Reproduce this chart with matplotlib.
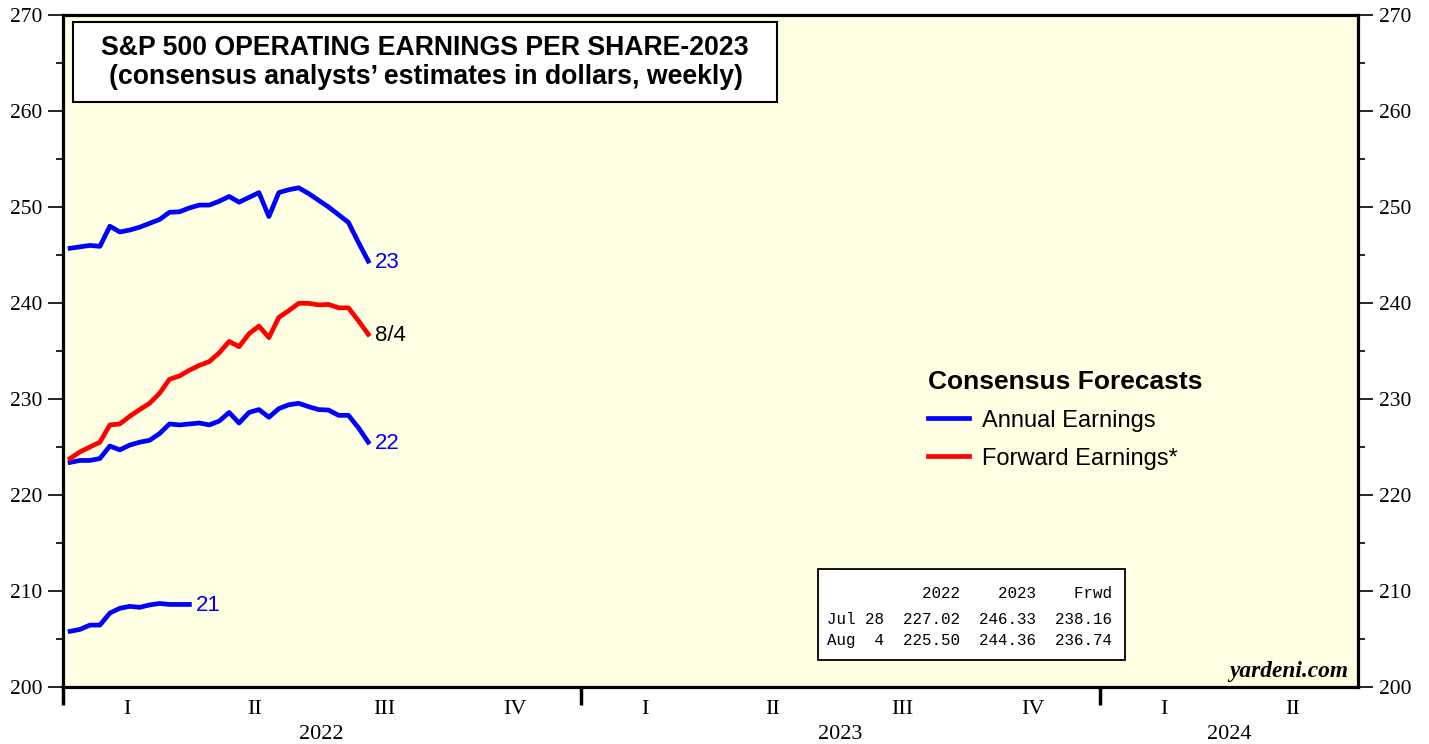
import matplotlib
matplotlib.use("Agg")
import matplotlib.pyplot as plt
from matplotlib.lines import Line2D
from matplotlib.patches import Rectangle
import numpy as np
import pandas as pd

# ---------------- data ----------------
dates_2022 = pd.date_range("2022-01-06", periods=31, freq="7D")
dates_2021 = pd.date_range("2022-01-06", periods=13, freq="7D")

eps_2023 = [245.7, 245.85, 246.0, 245.9, 248.0, 247.4, 247.6, 247.9, 248.3, 248.7,
            249.45, 249.5, 249.9, 250.2, 250.2, 250.6, 251.1, 250.5, 251.0, 251.5,
            249.0, 251.5, 251.8, 252.0, 251.4, 250.7, 250.0, 249.2, 248.4, 246.33, 244.36]
eps_2022 = [223.4, 223.6, 223.6, 223.8, 225.1, 224.7, 225.2, 225.5, 225.7, 226.4,
            227.4, 227.3, 227.4, 227.5, 227.3, 227.7, 228.6, 227.5, 228.6, 228.9,
            228.1, 229.0, 229.4, 229.55, 229.2, 228.9, 228.85, 228.3, 228.3, 227.02, 225.50]
eps_fwd = [223.8, 224.5, 225.0, 225.5, 227.3, 227.4, 228.2, 228.9, 229.55, 230.6,
           232.05, 232.4, 233.0, 233.5, 233.9, 234.8, 236.0, 235.45, 236.8, 237.6,
           236.4, 238.5, 239.2, 239.97, 239.97, 239.8, 239.85, 239.5, 239.5, 238.16, 236.74]
eps_2021 = [205.8, 206.0, 206.45, 206.45, 207.7, 208.2, 208.4, 208.3, 208.55, 208.7,
            208.6, 208.6, 208.6]

quarter_labels = ["I", "II", "III", "IV", "I", "II", "III", "IV", "I", "II"]
quarter_centers = ["2022-02-15", "2022-05-16", "2022-08-15", "2022-11-15",
                   "2023-02-15", "2023-05-16", "2023-08-15", "2023-11-15",
                   "2024-02-15", "2024-05-16"]
year_labels = ["2022", "2023", "2024"]
year_centers = ["2022-07-02", "2023-07-02", "2024-04-01"]
year_bounds = ["2022-01-01", "2023-01-01", "2024-01-01"]

table_header = "          2022    2023    Frwd"
table_rows = ["Jul 28  227.02  246.33  238.16",
              "Aug  4  225.50  244.36  236.74"]

# ---------------- figure ----------------
W, H = 1429, 744
fig = plt.figure(figsize=(W / 100, H / 100), dpi=100)
fig.patch.set_facecolor("white")

def fx(px):
    return px / W

def fy(py):
    return 1 - py / H

ax = fig.add_axes([fx(63), fy(687), fx(1358) - fx(63), fy(15) - fy(687)])
ax.set_facecolor("#FFFFE3")

BLUE = "#0000FF"
RED = "#FF0000"
SERIF = "Liberation Serif"
SANS = "Liberation Sans"
LW = 3.4

ax.plot(dates_2022, eps_2023, color=BLUE, lw=LW, zorder=3)
ax.plot(dates_2022, eps_2022, color=BLUE, lw=LW, zorder=3)
ax.plot(dates_2022, eps_fwd, color=RED, lw=LW, zorder=3)
ax.plot(dates_2021, eps_2021, color=BLUE, lw=LW, zorder=3)

ax.set_xlim(pd.Timestamp("2022-01-01"), pd.Timestamp("2024-07-01"))
ax.set_ylim(200, 270)

# end labels
def endlabel(d, v, s, c):
    ax.annotate(s, xy=(d, v), xytext=(5, -1), textcoords="offset points",
                va="center", ha="left", fontsize=16, color=c, family=SANS)

endlabel(dates_2022[-1], eps_2023[-1], "23", BLUE)
endlabel(dates_2022[-1], eps_fwd[-1], "8/4", "black")
endlabel(dates_2022[-1], eps_2022[-1], "22", BLUE)
endlabel(dates_2021[-1], eps_2021[-1], "21", BLUE)

# y axis ticks both sides
ax.set_yticks(np.arange(200, 271, 10))
ax.set_yticks(np.arange(205, 270, 10), minor=True)
ax.tick_params(axis="y", which="major", direction="out", length=11, width=1.2,
               left=True, right=True, labelleft=True, labelright=True,
               labelsize=15.5, pad=4)
ax.tick_params(axis="y", which="minor", direction="out", length=5, width=1.2,
               left=True, right=True)
for lab in ax.get_yticklabels():
    lab.set_family(SERIF)

# x axis: year boundary ticks, no labels
ax.set_xticks([pd.Timestamp(d) for d in year_bounds])
ax.set_xticklabels([])
ax.tick_params(axis="x", which="major", direction="out", length=13, width=2.5)
ax.tick_params(axis="x", which="minor", bottom=False)

trans = ax.get_xaxis_transform()
for q, d in zip(quarter_labels, quarter_centers):
    ax.text(pd.Timestamp(d), -0.034, q, transform=trans, ha="center", va="center",
            fontsize=16, family=SERIF)
for y, d in zip(year_labels, year_centers):
    ax.text(pd.Timestamp(d), -0.071, y, transform=trans, ha="center", va="center",
            fontsize=16, family=SERIF)

for s in ax.spines.values():
    s.set_linewidth(2.3)
    s.set_color("black")

# title box
fig.patches.append(Rectangle((fx(73), fy(102)), fx(777) - fx(73), fy(22) - fy(102),
                             transform=fig.transFigure, facecolor="white",
                             edgecolor="black", lw=1.5, zorder=5))
fig.text(fx(425), fy(48), "S&P 500 OPERATING EARNINGS PER SHARE-2023", ha="center",
         va="center", fontsize=19.2, fontweight="bold", family=SANS, zorder=6)
fig.text(fx(426), fy(77), "(consensus analysts\u2019 estimates in dollars, weekly)",
         ha="center", va="center", fontsize=19.2, fontweight="bold", family=SANS, zorder=6)

# legend
handles = [Line2D([], [], color=BLUE, lw=LW), Line2D([], [], color=RED, lw=LW)]
leg = ax.legend(handles, ["Annual Earnings", "Forward Earnings*"],
                title="Consensus Forecasts", loc="upper left",
                bbox_to_anchor=(fx(911), fy(353)), bbox_transform=fig.transFigure,
                frameon=False, prop={"family": SANS, "size": 17},
                title_fontproperties={"family": SANS, "size": 19, "weight": "bold"},
                handlelength=1.75, handletextpad=0.55, labelspacing=0.68,
                alignment="left", borderpad=0.2)

# data table
fig.patches.append(Rectangle((fx(818), fy(660)), fx(1125) - fx(818), fy(569) - fy(660),
                             transform=fig.transFigure, facecolor="white",
                             edgecolor="black", lw=1.3, zorder=5))
fig.text(fx(827), fy(593), table_header, ha="left", va="center", fontsize=11.4,
         family="Liberation Mono", zorder=6)
for i, row in enumerate(table_rows):
    fig.text(fx(827), fy(619 + 22 * i), row, ha="left", va="center", fontsize=11.4,
             family="Liberation Mono", zorder=6)

# source
fig.text(fx(1348), fy(672), "yardeni.com", ha="right", va="center", fontsize=16.8,
         family=SERIF, fontweight="bold", style="italic")

fig.savefig("out.png", dpi=100)
